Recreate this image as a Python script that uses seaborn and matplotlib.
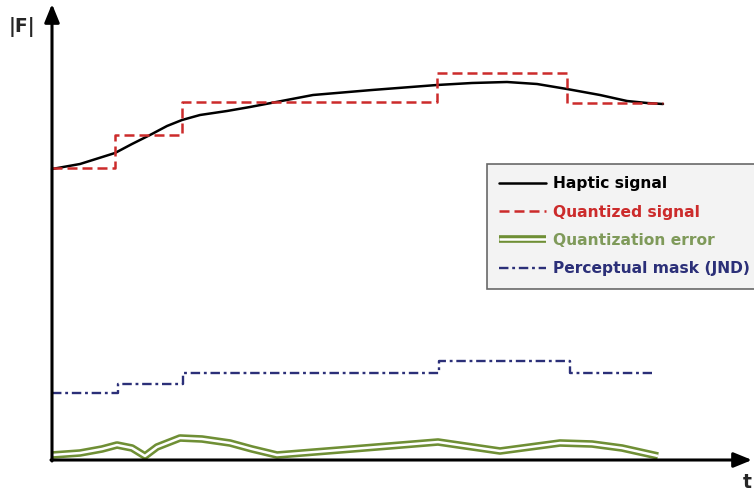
import numpy as np
import pandas as pd
import matplotlib
matplotlib.use("Agg")
import matplotlib.pyplot as plt
import matplotlib.patheffects as pe
import seaborn as sns

# -----------------------------
# DATA (arbitrary units)
# -----------------------------
haptic_t = [0, 28, 63, 80, 98, 115, 130, 148, 175, 198, 261, 320, 385,
            420, 455, 485, 515, 548, 575, 595, 611]
haptic_f = [291, 296, 307, 316, 325, 334, 340, 345, 349, 353, 365, 370, 375,
            377, 378, 376, 371, 365, 359, 357, 356]

quant_t = [0, 63, 130, 385, 515, 611]
quant_f = [292, 325, 358, 387, 357, 357]

jnd_t = [0, 66, 131, 387, 518, 600]
jnd_f = [67, 76, 87, 99, 87, 87]

err_t = [0, 28, 50, 65, 80, 93, 105, 128, 150, 178, 200, 225, 300, 386,
         448, 508, 540, 570, 606]
err_f = [5, 7, 11, 15, 12, 4, 13, 22, 21, 17, 11, 5, 11, 18,
         9, 17, 16, 12, 4]

# colours
C_RED = "#cc2b2b"
C_GREEN = "#6f8f35"
C_GREEN_TXT = "#7f9a5a"
C_BLUE = "#2b2f78"

# -----------------------------
# PLOT
# -----------------------------
sns.set_style("white")
plt.rcParams['font.family'] = ['DejaVu Sans']

fig = plt.figure(figsize=(7.54, 4.9), dpi=100)
ax = fig.add_axes([0, 0, 1, 1])

sns.lineplot(x=haptic_t, y=haptic_f, sort=False, color="black", lw=1.8,
             ax=ax, label="Haptic signal")
sns.lineplot(x=quant_t, y=quant_f, sort=False, color=C_RED, lw=1.8,
             drawstyle="steps-post", linestyle=(0, (4, 2)), ax=ax,
             label="Quantized signal")
sns.lineplot(x=err_t, y=err_f, sort=False, color="white", lw=1.8, ax=ax,
             solid_capstyle="butt", solid_joinstyle="round",
             path_effects=[pe.Stroke(linewidth=5.5, foreground=C_GREEN,
                                     capstyle="butt"), pe.Normal()],
             label="Quantization error")
sns.lineplot(x=jnd_t, y=jnd_f, sort=False, color=C_BLUE, lw=1.7,
             drawstyle="steps-post", linestyle=(0, (4, 1.6, 1.2, 1.6)), ax=ax,
             label="Perceptual mask (JND)")

ax.set_xlim(-52, 702)
ax.set_ylim(-30, 460)
ax.axis("off")

# axes with arrows
arrow = dict(arrowstyle="-|>,head_length=1.1,head_width=0.45", lw=2.2,
             color="black", shrinkA=0, shrinkB=0)
ax.annotate("", xy=(0, 456), xytext=(0, -1), arrowprops=arrow)
ax.annotate("", xy=(700, 0), xytext=(-1, 0), arrowprops=arrow)
ax.text(-30, 433, "|F|", fontsize=13.5, fontweight="bold", ha="center", va="center")
ax.text(695, -22, "t", fontsize=13.5, fontweight="bold", ha="center", va="center")

leg = ax.legend(loc="upper left", bbox_to_anchor=(487 / 754, 1 - 164 / 490),
                bbox_transform=fig.transFigure, frameon=True, fancybox=False,
                prop=dict(weight="bold", size=11.2), handlelength=3.0,
                labelspacing=0.85, borderpad=0.8, handletextpad=0.45,
                borderaxespad=0)
leg.get_frame().set_facecolor("#f1f1f1")
leg.get_frame().set_edgecolor("#444444")
leg.get_frame().set_linewidth(1.2)
for txt, col in zip(leg.get_texts(), ["black", C_RED, C_GREEN_TXT, C_BLUE]):
    txt.set_color(col)

fig.savefig("out.png", dpi=100)
